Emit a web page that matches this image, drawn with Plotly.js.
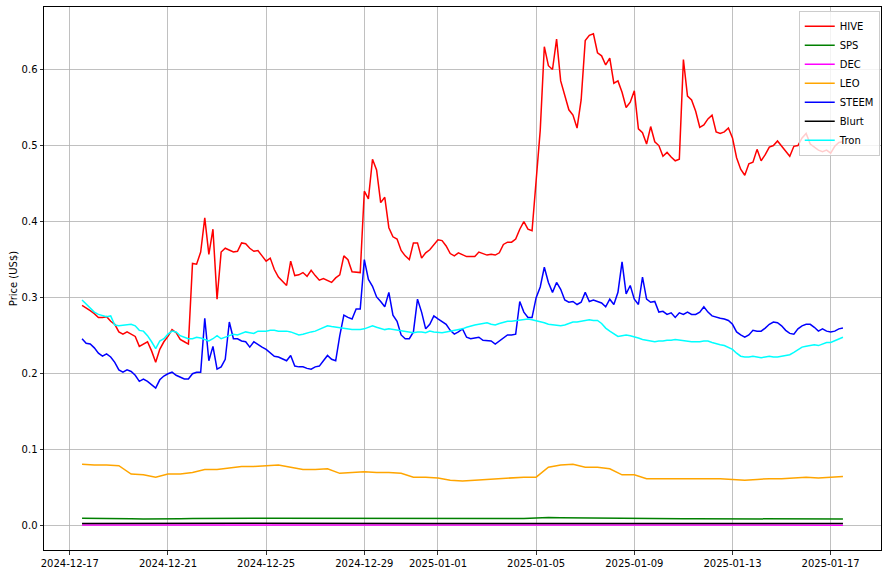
<!DOCTYPE html>
<html>
<head>
<meta charset="utf-8">
<script src="https://cdn.plot.ly/plotly-3.0.1.min.js"></script>
<style>html,body{margin:0;padding:0;background:#fff;}#chart{width:888px;height:575px;}</style>
</head>
<body>
<div id="chart"></div>
<script>
// Series names and colours
const seriesNames = ["HIVE","SPS","DEC","LEO","STEEM","Blurt","Tron"];
const seriesColors = ["#ff0000","#008000","#ff00ff","#ffa500","#0000ff","#000000","#00ffff"];

// Sampling: fine series every 4 hours, slow series every 12 hours, from 2024-12-17 12:00
const startTime = "2024-12-17T12:00:00Z";
const fineStepHours = 4;
const coarseStepHours = 12;

const hive = [0.290,0.287,0.283,0.279,0.274,0.274,0.275,0.269,0.265,0.255,
 0.252,0.255,0.252,0.249,0.236,0.239,0.242,0.230,0.215,0.232,
 0.242,0.249,0.258,0.254,0.245,0.242,0.239,0.345,0.344,0.360,
 0.405,0.357,0.390,0.298,0.360,0.365,0.362,0.360,0.361,0.372,
 0.371,0.365,0.361,0.362,0.355,0.348,0.352,0.337,0.327,0.321,
 0.316,0.348,0.329,0.330,0.333,0.328,0.336,0.329,0.323,0.325,
 0.323,0.320,0.326,0.330,0.355,0.350,0.334,0.333,0.333,0.440,
 0.430,0.482,0.468,0.425,0.432,0.392,0.380,0.377,0.362,0.355,
 0.350,0.372,0.372,0.352,0.359,0.363,0.369,0.376,0.375,0.368,
 0.358,0.355,0.359,0.357,0.354,0.354,0.354,0.360,0.358,0.356,
 0.357,0.356,0.359,0.370,0.373,0.373,0.377,0.390,0.400,0.390,
 0.388,0.450,0.520,0.630,0.605,0.600,0.640,0.585,0.565,0.547,
 0.540,0.523,0.560,0.638,0.645,0.647,0.622,0.618,0.606,0.615,
 0.582,0.585,0.570,0.550,0.557,0.572,0.522,0.517,0.502,0.525,
 0.505,0.500,0.486,0.491,0.485,0.480,0.482,0.613,0.565,0.560,
 0.545,0.524,0.527,0.535,0.540,0.518,0.516,0.518,0.523,0.510,
 0.484,0.469,0.461,0.476,0.478,0.495,0.480,0.488,0.498,0.500,
 0.506,0.499,0.493,0.486,0.499,0.500,0.510,0.516,0.502,0.498,
 0.494,0.492,0.494,0.490,0.499,0.504,0.505];

const steem = [0.246,0.240,0.239,0.234,0.227,0.223,0.226,0.222,0.215,0.205,
 0.202,0.205,0.203,0.198,0.190,0.193,0.190,0.185,0.181,0.192,
 0.197,0.200,0.202,0.198,0.196,0.193,0.193,0.200,0.202,0.202,
 0.273,0.217,0.236,0.206,0.209,0.219,0.268,0.246,0.246,0.243,
 0.242,0.235,0.242,0.238,0.235,0.232,0.228,0.223,0.222,0.219,
 0.217,0.224,0.210,0.209,0.209,0.207,0.206,0.209,0.210,0.217,
 0.224,0.219,0.217,0.250,0.277,0.274,0.272,0.285,0.285,0.350,
 0.324,0.315,0.301,0.295,0.288,0.307,0.277,0.269,0.251,0.246,
 0.246,0.255,0.298,0.281,0.259,0.265,0.276,0.272,0.269,0.265,
 0.257,0.252,0.255,0.259,0.248,0.246,0.247,0.248,0.244,0.243,
 0.243,0.239,0.243,0.247,0.251,0.251,0.252,0.295,0.281,0.274,
 0.274,0.300,0.314,0.340,0.320,0.307,0.320,0.311,0.297,0.294,
 0.295,0.291,0.294,0.307,0.295,0.297,0.295,0.293,0.288,0.298,
 0.291,0.307,0.347,0.305,0.316,0.298,0.291,0.327,0.298,0.294,
 0.295,0.281,0.282,0.278,0.280,0.274,0.280,0.278,0.281,0.278,
 0.278,0.281,0.288,0.281,0.276,0.274,0.273,0.272,0.270,0.265,
 0.255,0.251,0.248,0.251,0.257,0.256,0.256,0.260,0.265,0.268,
 0.267,0.263,0.257,0.253,0.252,0.259,0.263,0.265,0.265,0.261,
 0.256,0.259,0.256,0.255,0.256,0.259,0.260];

const tron = [0.297,0.292,0.286,0.281,0.278,0.276,0.275,0.276,0.264,0.263,
 0.264,0.265,0.265,0.263,0.257,0.256,0.250,0.242,0.233,0.243,
 0.246,0.252,0.256,0.255,0.250,0.248,0.246,0.246,0.248,0.247,
 0.245,0.243,0.246,0.250,0.246,0.248,0.250,0.252,0.251,0.253,
 0.255,0.254,0.253,0.256,0.256,0.256,0.257,0.257,0.256,0.256,
 0.256,0.255,0.253,0.251,0.252,0.254,0.255,0.256,0.258,0.261,
 0.263,0.262,0.261,0.261,0.260,0.259,0.258,0.258,0.258,0.259,
 0.261,0.263,0.261,0.259,0.258,0.259,0.258,0.257,0.256,0.255,
 0.254,0.254,0.255,0.255,0.254,0.256,0.255,0.254,0.254,0.255,
 0.256,0.256,0.257,0.259,0.261,0.263,0.264,0.265,0.266,0.267,
 0.265,0.264,0.266,0.268,0.269,0.269,0.270,0.271,0.272,0.272,
 0.271,0.270,0.268,0.267,0.265,0.264,0.264,0.263,0.264,0.266,
 0.268,0.268,0.269,0.270,0.271,0.270,0.270,0.266,0.260,0.256,
 0.253,0.249,0.250,0.251,0.250,0.249,0.247,0.245,0.244,0.242,
 0.242,0.243,0.243,0.244,0.244,0.245,0.244,0.243,0.243,0.242,
 0.242,0.242,0.243,0.243,0.241,0.239,0.238,0.237,0.235,0.232,
 0.227,0.223,0.222,0.222,0.223,0.222,0.221,0.222,0.223,0.222,
 0.222,0.223,0.224,0.225,0.228,0.232,0.235,0.236,0.237,0.238,
 0.237,0.239,0.241,0.241,0.243,0.246,0.248];

const leo = [0.081,0.080,0.080,0.079,0.068,0.067,0.064,0.068,0.068,0.070,
 0.074,0.074,0.076,0.078,0.078,0.079,0.080,0.077,0.074,0.074,
 0.075,0.069,0.070,0.071,0.070,0.070,0.069,0.064,0.064,0.063,
 0.060,0.059,0.060,0.061,0.062,0.063,0.064,0.064,0.077,0.080,
 0.081,0.077,0.077,0.075,0.067,0.067,0.062,0.062,0.062,0.062,
 0.062,0.062,0.062,0.061,0.060,0.061,0.062,0.062,0.063,0.064,
 0.063,0.064,0.065];

const sps = [0.0100,0.0100,0.0099,0.0097,0.0093,0.0090,0.0088,0.0089,0.0092,0.0095,
 0.0098,0.0101,0.0103,0.0102,0.0101,0.0100,0.0100,0.0099,0.0098,0.0097,
 0.0097,0.0096,0.0096,0.0097,0.0096,0.0095,0.0094,0.0094,0.0093,0.0093,
 0.0093,0.0092,0.0092,0.0093,0.0094,0.0095,0.0097,0.0102,0.0110,0.0106,
 0.0104,0.0102,0.0101,0.0100,0.0098,0.0096,0.0096,0.0095,0.0095,0.0094,
 0.0094,0.0093,0.0093,0.0092,0.0091,0.0091,0.0090,0.0090,0.0089,0.0089,
 0.0089,0.0088,0.0088];

const blurt = [0.0032,0.0032,0.0031,0.0025,0.0026,0.0027,0.0029,0.0030,0.0032,0.0033,
 0.0034,0.0033,0.0033,0.0034,0.0035,0.0034,0.0034,0.0033,0.0033,0.0032,
 0.0032,0.0031,0.0031,0.0032,0.0033,0.0032,0.0031,0.0031,0.0030,0.0030,
 0.0030,0.0029,0.0029,0.0029,0.0030,0.0031,0.0032,0.0033,0.0035,0.0034,
 0.0034,0.0033,0.0033,0.0032,0.0032,0.0032,0.0031,0.0031,0.0031,0.0031,
 0.0030,0.0030,0.0030,0.0030,0.0030,0.0030,0.0030,0.0030,0.0029,0.0029,
 0.0029,0.0029,0.0029];

const dec = [0.0011,0.0011,0.0011,0.0010,0.0010,0.0010,0.0009,0.0009,0.0010,0.0010,
 0.0010,0.0010,0.0010,0.0010,0.0010,0.0010,0.0010,0.0010,0.0010,0.0010,
 0.0010,0.0009,0.0009,0.0010,0.0010,0.0009,0.0009,0.0009,0.0009,0.0009,
 0.0009,0.0009,0.0009,0.0009,0.0009,0.0009,0.0010,0.0010,0.0011,0.0011,
 0.0010,0.0010,0.0010,0.0010,0.0010,0.0009,0.0009,0.0009,0.0009,0.0009,
 0.0009,0.0009,0.0009,0.0009,0.0009,0.0009,0.0009,0.0009,0.0009,0.0009,
 0.0009,0.0009,0.0009];

const tickDates = ["2024-12-17","2024-12-21","2024-12-25","2024-12-29","2025-01-01","2025-01-05","2025-01-09","2025-01-13","2025-01-17"];

function pad(n){return (n<10?"0":"")+n;}
function timeAxis(n, stepH){
  const t0 = Date.parse(startTime);
  const out = [];
  for(let i=0;i<n;i++){
    const d = new Date(t0 + i*stepH*3600000);
    out.push(d.getUTCFullYear()+"-"+pad(d.getUTCMonth()+1)+"-"+pad(d.getUTCDate())+" "+pad(d.getUTCHours())+":"+pad(d.getUTCMinutes()));
  }
  return out;
}

const seriesData = [hive, sps, dec, leo, steem, blurt, tron];
const traces = seriesData.map((vals, k) => {
  const step = vals.length > 100 ? fineStepHours : coarseStepHours;
  return {
    type: "scatter", mode: "lines",
    name: seriesNames[k],
    x: timeAxis(vals.length, step),
    y: vals,
    line: {color: seriesColors[k], width: 1.5}
  };
});

const font = {family: "DejaVu Sans, sans-serif", size: 10, color: "#000"};
const layout = {
  width: 888, height: 575,
  margin: {l: 44, r: 7, t: 7, b: 25},
  paper_bgcolor: "#fff", plot_bgcolor: "#fff",
  font: font,
  showlegend: true,
  legend: {
    x: 0.9985, y: 0.993, xanchor: "right", yanchor: "top",
    bgcolor: "rgba(255,255,255,0.8)", bordercolor: "#cccccc", borderwidth: 1,
    font: font, itemwidth: 30, tracegroupgap: 0
  },
  xaxis: {
    type: "date",
    range: ["2024-12-15 22:48", "2025-01-19 01:12"],
    tickmode: "array", tickvals: tickDates, ticktext: tickDates,
    showgrid: true, gridcolor: "#b0b0b0", gridwidth: 0.8,
    showline: true, linecolor: "#000", linewidth: 1, mirror: true,
    ticks: "outside", ticklen: 3.5, tickcolor: "#000", tickwidth: 0.8,
    zeroline: false, tickfont: font
  },
  yaxis: {
    range: [-0.0318, 0.6822],
    tickmode: "array", tickvals: [0,0.1,0.2,0.3,0.4,0.5,0.6],
    ticktext: ["0.0","0.1","0.2","0.3","0.4","0.5","0.6"],
    showgrid: true, gridcolor: "#b0b0b0", gridwidth: 0.8,
    showline: true, linecolor: "#000", linewidth: 1, mirror: true,
    ticks: "outside", ticklen: 3.5, tickcolor: "#000", tickwidth: 0.8,
    zeroline: false, tickfont: font,
    title: {text: "Price (US$)", font: font, standoff: 2}
  }
};

Plotly.newPlot("chart", traces, layout, {staticPlot: true, displayModeBar: false});
</script>
</body>
</html>
